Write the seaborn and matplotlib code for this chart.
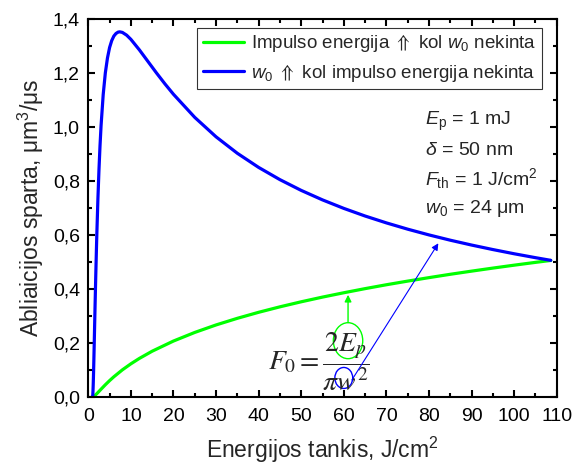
import matplotlib
matplotlib.use("Agg")
import matplotlib.pyplot as plt
from matplotlib.patches import Ellipse
from matplotlib.ticker import MultipleLocator, FuncFormatter
import seaborn as sns
import pandas as pd

# Ablation rate vs fluence: pulse energy rising at fixed w0 (green)
fluence_ep = [1, 1.5, 2, 3, 4, 5, 6, 8, 10, 12, 15, 20, 25, 30, 35, 40, 45,
              50, 55, 60, 65, 70, 75, 80, 85, 90, 95, 100, 105, 108.6]
rate_ep = [0.0, 0.0038, 0.0111, 0.0278, 0.0442, 0.0596, 0.0738, 0.0995,
           0.1219, 0.1420, 0.1687, 0.2064, 0.2383, 0.2661, 0.2907, 0.3130,
           0.3333, 0.3520, 0.3694, 0.3855, 0.4008, 0.4152, 0.4287, 0.4416,
           0.4540, 0.4657, 0.4770, 0.4878, 0.4982, 0.5054]

# Ablation rate vs fluence: w0 rising at fixed pulse energy (blue)
fluence_w0 = [1, 1.05, 1.1, 1.15, 1.2, 1.25, 1.3, 1.4, 1.5, 1.6, 1.75, 1.9,
              2, 2.25, 2.5, 2.75, 3, 3.5, 4, 4.5, 5, 5.5, 6, 6.5, 7, 7.39,
              8, 9, 10, 12, 14, 16, 18, 20, 25, 30, 35, 40, 45,
              50, 55, 60, 65, 70, 75, 80, 85, 90, 95, 100, 105, 108.6]
rate_w0 = [0.0, 0.0057, 0.0206, 0.0424, 0.0692, 0.0996, 0.1324, 0.2022,
           0.2740, 0.3452, 0.4474, 0.5414, 0.6006, 0.7307, 0.8396, 0.9305,
           1.0058, 1.1210, 1.2011, 1.2563, 1.2952, 1.3208, 1.3377, 1.3473,
           1.3524, 1.3534, 1.3513, 1.3411, 1.3255, 1.2864, 1.2437, 1.2011,
           1.1603, 1.1218, 1.0361, 0.9640, 0.9029, 0.8505, 0.8051, 0.7652,
           0.7300, 0.6985, 0.6702, 0.6447, 0.6214, 0.6001, 0.5805, 0.5625,
           0.5458, 0.5302, 0.5157, 0.5058]

label_ep = r"Impulso energija ${\Uparrow}$ kol $\mathit{w}_{\mathrm{0}}$ nekinta"
label_w0 = r"$\mathit{w}_{\mathrm{0}}$ ${\Uparrow}$ kol impulso energija nekinta"

params = [r"$\mathit{E}_{\mathrm{p}}$ = 1 mJ",
          r"$\mathit{\delta}$ = 50 nm",
          r"$\mathit{F}_{\mathrm{th}}$ = 1 J/cm$^{2}$",
          r"$\mathit{w}_{\mathrm{0}}$ = 24 μm"]

GREEN = "#00FF00"
BLUE = "#0000FF"

sns.set_style("ticks")
plt.rcParams["font.family"] = ["Liberation Sans", "DejaVu Sans"]
plt.rcParams["mathtext.fontset"] = "custom"
plt.rcParams["mathtext.rm"] = "Liberation Sans"
plt.rcParams["mathtext.it"] = "Liberation Sans:italic"
plt.rcParams["mathtext.bf"] = "Liberation Sans:bold"
plt.rcParams["mathtext.fallback"] = "stixsans"

df_ep = pd.DataFrame({"F": fluence_ep, "V": rate_ep})
df_w0 = pd.DataFrame({"F": fluence_w0, "V": rate_w0})

fig = plt.figure(figsize=(5.76, 4.68), dpi=100)
ax = fig.add_axes([0.1533, 0.1524, 0.8132, 0.8064])

sns.lineplot(data=df_ep, x="F", y="V", ax=ax, color=GREEN, lw=2.3,
             label=label_ep, sort=False)
sns.lineplot(data=df_w0, x="F", y="V", ax=ax, color=BLUE, lw=2.3,
             label=label_w0, sort=False)

ax.set_xlim(0, 110)
ax.set_ylim(0, 1.4)
ax.xaxis.set_major_locator(MultipleLocator(10))
ax.xaxis.set_minor_locator(MultipleLocator(5))
ax.yaxis.set_major_locator(MultipleLocator(0.2))
ax.yaxis.set_minor_locator(MultipleLocator(0.1))
ax.yaxis.set_major_formatter(FuncFormatter(lambda v, p: f"{v:.1f}".replace(".", ",")))

for s in ax.spines.values():
    s.set_visible(True)
    s.set_linewidth(1.5)
    s.set_color("black")
ax.tick_params(which="both", direction="in", top=True, right=True,
               width=1.5, colors="black", labelsize=14)
ax.tick_params(which="major", length=5)
ax.tick_params(which="minor", length=3)
ax.tick_params(axis="x", which="major", pad=8)
ax.tick_params(axis="y", which="major", pad=6)

ax.set_xlabel("Energijos tankis, J/cm$^{2}$", fontsize=16.5, labelpad=7)
ax.set_ylabel("Abliaicijos sparta, μm$^{3}$/μs", fontsize=16.5, labelpad=5)

leg = ax.legend(loc="upper right", bbox_to_anchor=(0.969, 0.978),
                fontsize=13.5, frameon=True, fancybox=False, handlelength=2.2,
                borderpad=0.3, labelspacing=0.45, handletextpad=0.4,
                borderaxespad=0)
leg.get_frame().set_edgecolor("black")
leg.get_frame().set_linewidth(0.8)

for txt, yb in zip(params, [1.006, 0.8965, 0.7853, 0.6802]):
    ax.text(79.1, yb, txt, fontsize=14, ha="left", va="baseline")

# fluence formula with the varied quantities circled
ax.text(42.3, 0.099, r"$F_0=\dfrac{2E_p}{\pi w^2}$", fontsize=20,
        ha="left", va="baseline", math_fontfamily="stix")
ax.add_patch(Ellipse((61.0, 0.2077), 6.9, 0.1335, fill=False,
                     edgecolor=GREEN, lw=1.0))
ax.add_patch(Ellipse((60.0, 0.0694), 4.2, 0.078, fill=False,
                     edgecolor=BLUE, lw=1.0))
ax.annotate("", xy=(61.0, 0.378), xytext=(61.0, 0.275),
            arrowprops=dict(arrowstyle="-|>", color=GREEN, lw=1.0,
                            mutation_scale=10, shrinkA=0, shrinkB=0))
ax.annotate("", xy=(82.2, 0.569), xytext=(61.9, 0.062),
            arrowprops=dict(arrowstyle="-|>", color=BLUE, lw=0.8,
                            mutation_scale=10, shrinkA=0, shrinkB=0))

fig.savefig("out.png", dpi=100)
